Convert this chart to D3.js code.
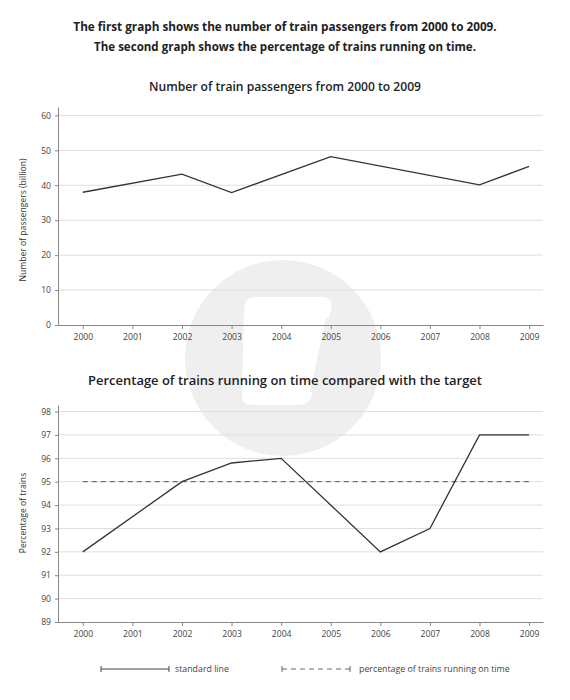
<!DOCTYPE html>
<html><head><meta charset="utf-8">
<script src="https://cdn.jsdelivr.net/npm/d3@7"></script>
<style>body{margin:0;background:#fff;}svg{display:block;font-family:"Open Sans",sans-serif;}</style>
</head><body>
<svg id="c" width="570" height="700"></svg>
<script>
// ---- data ----
const years = [2000,2001,2002,2003,2004,2005,2006,2007,2008,2009];
const passengerYears = [2000,2002,2003,2005,2008,2009];
const passengerValues = [38,43.2,37.9,48.2,40.1,45.4];
const passengerTicks = [0,10,20,30,40,50,60];
const onTimeYears = [2000,2002,2003,2004,2006,2007,2008,2009];
const onTimeValues = [92,95,95.8,96,92,93,97,97];
const targetYears = [2000,2009];
const targetValues = [95,95];
const pctTicks = [89,90,91,92,93,94,95,96,97,98];
const headerLines = ["The first graph shows the number of train passengers from 2000 to 2009.","The second graph shows the percentage of trains running on time."];
const title1 = "Number of train passengers from 2000 to 2009";
const title2 = "Percentage of trains running on time compared with the target";
const yLabel1 = "Number of passengers (billion)";
const yLabel2 = "Percentage of trains";
const legendLabels = ["standard line","percentage of trains running on time"];

const svg = d3.select("#c");

function fit(sel, target){
  const n = sel.node();
  const fs = parseFloat(sel.attr("font-size"));
  const w = n.getComputedTextLength();
  if (w>0) sel.attr("font-size", (fs*target/w).toFixed(2));
}

// watermark
const wm = svg.append("g");
wm.append("circle").attr("cx",283).attr("cy",358).attr("r",98).attr("fill","#efefef");
wm.append("path").attr("d","M255,297 L322,297 Q334,297 331,309 L312,395 Q309,405 298,405 L252,405 Q241,405 242,394 L244,309 Q245,297 255,297 Z").attr("fill","#fff");
wm.append("path").attr("d","M326,318 L334,318 L318,392 L310,392 Z").attr("fill","#efefef");

// header
const headerWidths = [423,382];
svg.selectAll("text.h").data(headerLines).enter().append("text").attr("class","h")
  .attr("x",285).attr("y",(d,i)=>31+i*20).attr("text-anchor","middle")
  .attr("font-size",13.6).attr("font-weight",700).attr("fill","#222").text(d=>d)
  .each(function(d,i){ fit(d3.select(this), headerWidths[i]); });

function chart(cfg){
  const g = svg.append("g");
  const x = d3.scaleLinear().domain([1999.5,2009.28]).range([58,543]);
  const y = d3.scaleLinear().domain(cfg.ydom).range(cfg.yrange);
  const t = g.append("text").attr("x",285).attr("y",cfg.titleY).attr("text-anchor","middle")
    .attr("font-size",12.6).attr("font-weight",600).attr("fill","#222").text(cfg.title);
  fit(t, cfg.titleW);
  // grid
  g.append("g").selectAll("line").data(cfg.ticks.slice(1)).enter().append("line")
    .attr("x1",58).attr("x2",543).attr("y1",d=>y(d)).attr("y2",d=>y(d))
    .attr("stroke","#dedede").attr("stroke-width",1);
  const xa = g.append("g").attr("transform",`translate(0,${cfg.yrange[0]})`)
    .call(d3.axisBottom(x).tickValues(years).tickFormat(d3.format("d")).tickSize(4).tickSizeOuter(0).tickPadding(5));
  const ya = g.append("g").attr("transform","translate(58,0)")
    .call(d3.axisLeft(y).tickValues(cfg.ticks).tickSize(3).tickSizeOuter(0).tickPadding(4));
  [xa,ya].forEach(a=>{
    a.select(".domain").attr("stroke","#888");
    a.selectAll(".tick line").attr("stroke","#888");
    a.selectAll("text").attr("font-size",8.6).attr("fill","#444").attr("font-family","'Open Sans',sans-serif");
  });
  g.append("text").attr("transform",`translate(26,${cfg.labelY}) rotate(-90)`)
    .attr("text-anchor","middle").attr("font-size",8.6).attr("fill","#333").text(cfg.ylabel);
  const line = d3.line().x(d=>x(d[0])).y(d=>y(d[1]));
  cfg.series.forEach(s=>{
    g.append("path").datum(d3.zip(s.xs,s.vs)).attr("d",line).attr("fill","none")
      .attr("stroke",s.color).attr("stroke-width",s.w).attr("stroke-dasharray",s.dash||null)
      .attr("stroke-linejoin","miter");
  });
}

chart({ydom:[0,62.4],yrange:[325,107],ticks:passengerTicks,title:title1,titleW:272,titleY:91,ylabel:yLabel1,labelY:220,
  series:[{xs:passengerYears,vs:passengerValues,color:"#333",w:1.3}]});
chart({ydom:[89,98.28],yrange:[622,405],ticks:pctTicks,title:title2,titleW:394,titleY:385,ylabel:yLabel2,labelY:513,
  series:[{xs:targetYears,vs:targetValues,color:"#555",w:1,dash:"5,4"},{xs:onTimeYears,vs:onTimeValues,color:"#333",w:1.3}]});

// legend
const lg = svg.append("g");
const items = [{x1:101,x2:169,tx:175,dash:null,color:"#444"},{x1:282,x2:350,tx:359,dash:"5,4",color:"#666"}];
items.forEach((it,i)=>{
  lg.append("line").attr("x1",it.x1).attr("x2",it.x2).attr("y1",669).attr("y2",669)
    .attr("stroke",it.color).attr("stroke-width",1).attr("stroke-dasharray",it.dash);
  [it.x1,it.x2].forEach(xx=>lg.append("line").attr("x1",xx).attr("x2",xx).attr("y1",666).attr("y2",672).attr("stroke",it.color));
  lg.append("text").attr("x",it.tx).attr("y",672).attr("font-size",8.8).attr("fill","#444").text(legendLabels[i]);
});
</script>
</body></html>
